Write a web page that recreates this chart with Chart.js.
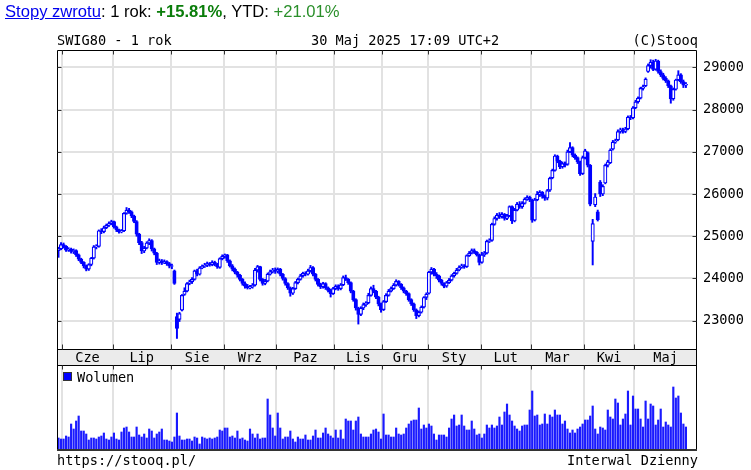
<!DOCTYPE html>
<html><head><meta charset="utf-8">
<script src="https://cdn.jsdelivr.net/npm/chart.js@4/dist/chart.umd.min.js"></script>
<style>
html,body{margin:0;padding:0;background:#fff;}
#wrap{position:relative;width:751px;height:470px;overflow:hidden;background:#fff;}
canvas{position:absolute;left:0;top:0;}
.mono{position:absolute;font-family:"DejaVu Sans Mono",monospace;font-size:13.6px;color:#000;white-space:pre;line-height:16px;}
#ret{position:absolute;left:5px;top:3px;font-family:"Liberation Sans",Arial,sans-serif;font-size:16.6px;line-height:18px;color:#000;white-space:pre;}
#ret a{color:#0000ee;text-decoration:underline;}
#legbox{position:absolute;left:63px;top:372px;width:7px;height:7px;background:#0000ff;border:1px solid #333;}
</style></head>
<body><div id="wrap">
<canvas id="vol" width="751" height="470"></canvas>
<canvas id="price" width="751" height="470"></canvas>
<div id="ret"><a>Stopy zwrotu</a>: 1 rok: <b style="color:#0a7d0a">+15.81%</b>, YTD: <span style="color:#2a8f2a">+21.01%</span></div>
<div class="mono" style="left:57px;top:32px">SWIG80 - 1 rok</div>
<div class="mono" style="left:311px;top:32px">30 Maj 2025 17:09 UTC+2</div>
<div class="mono" style="right:53px;top:32px">(C)Stooq</div>
<div id="legbox"></div>
<div class="mono" style="left:77px;top:369px">Wolumen</div>
<div class="mono" style="left:57px;top:452px">https://stooq.pl/</div>
<div class="mono" style="right:53px;top:452px">Interwal Dzienny</div>
</div>
<script>
// ---- data (trading days 29 May 2024 .. 30 May 2025) ----
const monthStarts = [2,22,45,66,87,110,129,147,168,188,209,229];
const monthLabels = ['Cze','Lip','Sie','Wrz','Paz','Lis','Gru','Sty','Lut','Mar','Kwi','Maj'];
const priceTicks = [23000,24000,25000,26000,27000,28000,29000];

const opens = [
24660,24700,24800,24760,24670,24690,24640,24660,24560,24460,
24380,24300,24220,24330,24480,24750,24760,25130,25110,25200,
25260,25300,25350,25220,25150,25100,25130,25540,25620,25580,
25480,25350,25050,24850,24650,24720,24840,24900,24700,24600,
24380,24420,24370,24400,24350,24290,24180,23100,23030,23250,
23620,23700,23880,23920,23980,24180,24100,24250,24290,24310,
24350,24320,24380,24340,24260,24470,24530,24560,24420,24300,
24220,24150,24080,23980,23880,23820,23780,23800,23840,24200,
24280,23980,23880,23940,24100,24160,24200,24170,24220,24100,
24000,23880,23780,23650,23760,23900,23980,24060,24120,24100,
24180,24260,24100,23980,23860,23800,23880,23780,23720,23640,
23760,23820,23760,23850,24020,23980,23900,23700,23500,23300,
23150,23300,23380,23420,23600,23760,23700,23560,23400,23260,
23450,23600,23700,23760,23840,23930,23860,23780,23700,23640,
23500,23400,23260,23120,23200,23320,23550,23650,24150,24220,
24100,24060,23960,23880,23820,23900,23960,24060,24120,24200,
24260,24300,24280,24540,24600,24660,24620,24560,24380,24560,
24600,24880,24900,25280,25420,25500,25460,25520,25420,25480,
25700,25360,25620,25760,25700,25780,25880,25920,25860,25380,
25860,25980,26040,25950,25900,26090,26380,26560,26900,26780,
26640,26720,26700,27000,27100,26920,26860,26760,26480,26860,
26980,26680,24880,25740,25580,26280,26000,26260,26680,26740,
27060,27230,27280,27480,27520,27480,27540,27820,27800,28040,
28180,28270,28500,28560,28900,29040,29120,28950,29150,28900,
28820,28740,28680,28560,28250,28480,28700,28820,28660,28580];

const highs = [
24740,24850,24840,24780,24730,24720,24700,24680,24580,24480,
24400,24320,24350,24500,24780,24800,25150,25180,25240,25290,
25340,25380,25360,25240,25170,25160,25560,25680,25660,25600,
25500,25370,25070,24880,24760,24870,24940,24920,24720,24620,
24460,24450,24440,24420,24380,24340,24200,23180,23200,23620,
23780,23900,23960,24020,24200,24220,24280,24320,24360,24390,
24380,24420,24410,24360,24490,24560,24580,24570,24440,24330,
24250,24170,24100,24000,23920,23860,23840,23880,24240,24310,
24290,24000,23980,24130,24200,24240,24250,24250,24240,24120,
24020,23900,23800,23790,23930,24010,24100,24150,24160,24220,
24310,24280,24120,24000,23890,23910,23900,23800,23750,23790,
23850,23850,23880,24060,24080,24000,23920,23720,23520,23320,
23330,23420,23450,23650,23800,23840,23720,23580,23420,23480,
23640,23740,23800,23880,23970,23950,23880,23800,23720,23660,
23520,23420,23280,23230,23350,23570,23660,24170,24260,24240,
24140,24080,23980,23900,23930,24000,24090,24150,24240,24300,
24340,24330,24560,24640,24700,24700,24640,24580,24620,24640,
24910,24940,25310,25460,25540,25560,25560,25540,25520,25720,
25720,25660,25800,25820,25820,25910,25960,25950,25880,25900,
26060,26080,26060,25980,26110,26400,26590,26930,26920,26800,
26760,26760,27040,27220,27120,26950,26880,26780,26900,27060,
27000,26700,25400,26010,25620,26320,26220,26710,26800,27070,
27270,27300,27520,27560,27560,27580,27850,27860,28070,28220,
28300,28530,28580,28750,29080,29180,29170,29190,29170,28940,
28860,28780,28700,28580,28510,28720,28920,28850,28700,28640];

const lows = [
24500,24680,24720,24640,24640,24600,24590,24520,24420,24350,
24250,24180,24190,24300,24460,24700,24740,25060,25080,25180,
25230,25270,25190,25110,25070,25080,25110,25520,25540,25440,
25320,25000,24800,24590,24610,24700,24800,24650,24560,24330,
24340,24330,24350,24310,24250,24230,23860,22580,22980,23230,
23600,23680,23850,23880,23960,24060,24080,24230,24260,24280,
24290,24300,24300,24240,24240,24440,24480,24380,24270,24180,
24110,24030,23940,23840,23770,23750,23750,23770,23820,24150,
23940,23840,23850,23920,24080,24130,24120,24130,24060,23960,
23840,23740,23580,23620,23740,23870,23960,24030,24060,24080,
24150,24060,23940,23820,23760,23770,23740,23680,23560,23620,
23730,23720,23730,23830,23950,23860,23660,23460,23250,22920,
23120,23260,23340,23400,23580,23660,23520,23350,23200,23240,
23430,23580,23680,23740,23820,23820,23740,23660,23600,23460,
23360,23220,23050,23090,23180,23300,23500,23630,24100,24060,
24000,23920,23840,23780,23790,23880,23940,24030,24100,24180,
24240,24240,24260,24520,24580,24590,24530,24320,24360,24520,
24580,24850,24880,25260,25380,25420,25430,25380,25390,25460,
25300,25340,25600,25660,25660,25760,25850,25820,25330,25360,
25840,25940,25900,25850,25860,26060,26360,26540,26740,26600,
26610,26640,26680,26980,26880,26820,26720,26440,26460,26830,
26640,25720,24320,25700,25360,25940,25960,26240,26640,26720,
27040,27200,27260,27440,27440,27450,27520,27760,27780,28020,
28150,28250,28460,28540,28880,28980,28920,28930,28860,28780,
28700,28640,28520,28150,28220,28460,28680,28620,28520,28520];

const closes = [
24700,24800,24760,24670,24690,24640,24660,24560,24460,24380,
24300,24220,24330,24480,24750,24760,25130,25110,25200,25260,
25300,25350,25220,25150,25100,25130,25540,25620,25580,25480,
25350,25050,24850,24650,24720,24840,24900,24700,24600,24380,
24420,24370,24400,24350,24290,24300,23880,22820,23170,23600,
23700,23880,23920,23980,24180,24100,24250,24290,24310,24350,
24320,24380,24340,24280,24470,24530,24560,24420,24300,24220,
24150,24080,23980,23880,23820,23780,23800,23840,24200,24280,
23980,23880,23940,24100,24160,24200,24170,24220,24100,24000,
23880,23780,23650,23760,23900,23980,24060,24120,24100,24180,
24260,24100,23980,23860,23800,23880,23780,23720,23640,23760,
23820,23760,23850,24020,23980,23900,23700,23500,23300,23150,
23300,23380,23420,23600,23760,23700,23560,23400,23260,23450,
23600,23700,23760,23840,23930,23860,23780,23700,23640,23500,
23400,23260,23120,23200,23320,23550,23630,24150,24220,24100,
24060,23960,23880,23820,23900,23960,24060,24120,24200,24260,
24300,24280,24540,24600,24660,24620,24560,24380,24560,24600,
24880,24900,25280,25420,25500,25460,25520,25420,25480,25700,
25360,25620,25760,25700,25780,25880,25920,25860,25380,25860,
26000,26040,25950,25900,26080,26370,26560,26900,26780,26640,
26720,26680,27000,27100,26920,26860,26760,26480,26860,27020,
26680,25760,25300,25930,25390,26000,26180,26680,26760,27040,
27230,27260,27480,27520,27480,27540,27820,27800,28040,28180,
28270,28500,28540,28720,29040,29120,28950,29150,28900,28820,
28740,28680,28560,28250,28480,28700,28820,28660,28580,28600];

const volumes = [
11,10,10,13,12,25,20,28,33,18,
18,15,9,11,11,10,12,13,16,10,
9,12,16,10,9,17,21,22,17,12,
12,22,14,12,15,11,20,18,11,15,
17,20,9,9,8,7,12,36,13,9,
9,10,10,8,12,11,5,12,11,10,
11,10,11,12,19,18,21,21,12,13,
11,18,10,11,9,8,20,15,11,15,
10,11,11,50,34,21,13,36,21,10,
12,12,18,10,7,12,10,10,14,9,
9,13,19,11,11,16,21,15,13,11,
19,11,19,10,30,28,28,19,28,32,
15,12,12,12,15,19,20,17,10,35,
14,14,12,12,21,15,14,15,21,25,
28,29,29,41,20,24,21,25,23,15,
9,14,14,14,12,21,30,34,23,24,
34,23,19,19,28,20,14,15,11,15,
24,21,24,21,23,32,24,37,45,34,
28,23,20,18,23,24,24,39,58,33,
34,24,25,35,25,34,32,39,34,34,
25,28,20,16,19,16,20,22,25,29,
29,33,43,20,15,22,21,19,39,32,
30,50,46,24,30,35,58,24,53,40,
40,30,22,48,30,45,43,24,29,40,
22,27,24,22,62,51,53,36,25,22];

// ---- layout ----
const X_MIN = -0.6, X_MAX = 253.4;
const Y_MIN = 22330, Y_MAX = 29410;
const VOL_MAX = 84;
const BLUE = '#0000ff';
const GRID = '#e2e2e2';

const bounds = monthStarts.map(m => m - 0.5);
const monthMids = bounds.map((b, k) => (b + (k + 1 < bounds.length ? bounds[k + 1] : X_MAX)) / 2);

Chart.defaults.font.family = '"DejaVu Sans Mono", monospace';
Chart.defaults.font.size = 13.6;
Chart.defaults.color = '#000';

const bodyData = closes.map((c, i) => ({x: i, y: [opens[i], c]}));
const wickData = closes.map((c, i) => ({x: i, y: [lows[i], highs[i]]}));
const volData = volumes.map((v, i) => ({x: i, y: v}));

const monthGridTicks = ax => { ax.ticks = bounds.map(v => ({value: v})); };

const priceFrame = {
  id: 'priceFrame',
  beforeDraw(chart) {
    const {ctx, chartArea: a} = chart;
    const xm = chart.scales.xm;
    ctx.save();
    ctx.fillStyle = '#ebebeb';
    ctx.fillRect(a.left, a.bottom, a.right - a.left, xm.bottom - a.bottom);
    ctx.restore();
  },
  afterDraw(chart) {
    const {ctx, chartArea: a} = chart;
    const xs = chart.scales.x, ys = chart.scales.y, xm = chart.scales.xm;
    const L = a.left + 0.5, R = a.right - 0.5, T = a.top + 0.5, B = a.bottom + 0.5, SB = xm.bottom + 0.5;
    ctx.save();
    ctx.strokeStyle = '#000'; ctx.lineWidth = 1;
    ctx.beginPath();
    ctx.moveTo(L, T); ctx.lineTo(R, T); ctx.lineTo(R, SB); ctx.lineTo(L, SB); ctx.closePath();
    ctx.moveTo(L, B); ctx.lineTo(R, B);
    ctx.stroke();
    ctx.strokeStyle = '#333';
    ctx.beginPath();
    xs.ticks.forEach(t => {
      const px = Math.round(xs.getPixelForValue(t.value)) + 0.5;
      ctx.moveTo(px, T); ctx.lineTo(px, T + 4);
      ctx.moveTo(px, B - 5); ctx.lineTo(px, B);
      ctx.moveTo(px, SB); ctx.lineTo(px, SB + 4);
    });
    ys.ticks.forEach(t => {
      const py = Math.round(ys.getPixelForValue(t.value)) + 0.5;
      ctx.moveTo(L, py); ctx.lineTo(L + 4, py);
      ctx.moveTo(R - 4, py); ctx.lineTo(R, py);
    });
    ctx.stroke();
    ctx.restore();
  }
};

const volFrame = {
  id: 'volFrame',
  afterDraw(chart) {
    const {ctx, chartArea: a} = chart;
    ctx.save();
    ctx.strokeStyle = '#000'; ctx.lineWidth = 1;
    ctx.beginPath();
    ctx.moveTo(a.left + 0.5, a.top); ctx.lineTo(a.left + 0.5, a.bottom + 2);
    ctx.moveTo(a.right - 0.5, a.top); ctx.lineTo(a.right - 0.5, a.bottom + 2);
    ctx.stroke();
    ctx.fillStyle = '#333';
    ctx.fillRect(a.left, a.bottom, a.right - a.left, 2);
    ctx.restore();
  }
};

new Chart(document.getElementById('vol'), {
  type: 'bar',
  data: {datasets: [{data: volData, backgroundColor: '#1a1aff', barThickness: 1.5, borderWidth: 0, grouped: false}]},
  options: {
    responsive: false, animation: false,
    layout: {padding: {left: 57, top: 365, right: 54, bottom: 21}},
    plugins: {legend: {display: false}, tooltip: {enabled: false}},
    scales: {
      x: {type: 'linear', min: X_MIN, max: X_MAX, offset: false,
          grid: {color: GRID, lineWidth: 2, drawTicks: false, offset: false}, border: {display: false},
          ticks: {display: false}, afterBuildTicks: monthGridTicks, afterFit: ax => { ax.height = 0; }},
      y: {display: false, min: 0, max: VOL_MAX}
    }
  },
  plugins: [volFrame]
});

new Chart(document.getElementById('price'), {
  type: 'bar',
  data: {datasets: [
    {label: 'body', data: bodyData, order: 0, grouped: false, barThickness: 3.4, borderWidth: 1.2,
     borderColor: BLUE, borderSkipped: false,
     backgroundColor: c => (closes[c.dataIndex] >= opens[c.dataIndex] ? '#ffffff' : BLUE),
     xAxisID: 'x', yAxisID: 'y'},
    {label: 'wick', data: wickData, order: 1, grouped: false, barThickness: 1.3, borderWidth: 0,
     backgroundColor: BLUE, xAxisID: 'x', yAxisID: 'y'}
  ]},
  options: {
    responsive: false, animation: false,
    layout: {padding: {left: 57, top: 50, right: 0, bottom: 105}},
    plugins: {legend: {display: false}, tooltip: {enabled: false}},
    scales: {
      x: {type: 'linear', position: 'bottom', min: X_MIN, max: X_MAX, offset: false,
          grid: {color: GRID, lineWidth: 2, drawTicks: false, offset: false}, border: {display: false},
          ticks: {display: false}, afterBuildTicks: monthGridTicks, afterFit: ax => { ax.height = 0; }},
      xm: {type: 'linear', position: 'bottom', min: X_MIN, max: X_MAX, offset: false,
           grid: {display: false, drawTicks: false}, border: {display: false},
           ticks: {autoSkip: false, maxRotation: 0, minRotation: 0, padding: 1, color: '#000',
                   callback: (v, i) => monthLabels[i]},
           afterBuildTicks: ax => { ax.ticks = monthMids.map(v => ({value: v})); },
           afterFit: ax => { ax.height = 16; }},
      y: {type: 'linear', position: 'right', min: Y_MIN, max: Y_MAX,
          grid: {color: GRID, lineWidth: 2, drawTicks: false}, border: {display: false},
          ticks: {padding: 6, color: '#000', callback: v => String(v)},
          afterBuildTicks: ax => { ax.ticks = priceTicks.map(v => ({value: v})); },
          afterFit: ax => { ax.width = 54; }}
    }
  },
  plugins: [priceFrame]
});
</script>
</body></html>
